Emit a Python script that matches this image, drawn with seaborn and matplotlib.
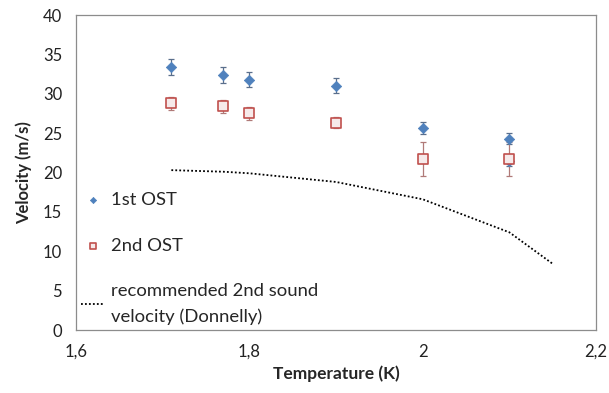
import pandas as pd
import matplotlib.pyplot as plt
import seaborn as sns

# measured points (temperature in K, velocity in m/s, error half-width)
temp_1st = [1.71, 1.77, 1.80, 1.90, 2.00, 2.10, 2.10]
vel_1st = [33.4, 32.4, 31.8, 31.0, 25.7, 24.3, 21.4]
err_1st = [1.0, 1.0, 1.0, 0.95, 0.75, 0.7, 0.6]

temp_2nd = [1.71, 1.77, 1.80, 1.90, 2.00, 2.10]
vel_2nd = [28.8, 28.4, 27.5, 26.3, 21.7, 21.7]
err_2nd = [0.8, 0.8, 0.8, 0.7, 2.2, 2.2]

# recommended second sound velocity (Donnelly)
temp_ref = [1.71, 1.77, 1.80, 1.90, 2.00, 2.10, 2.15]
vel_ref = [20.3, 20.1, 19.9, 18.8, 16.6, 12.4, 8.4]

x_ticks = [1.6, 1.8, 2.0, 2.2]
x_tick_labels = ["1,6", "1,8", "2", "2,2"]
y_ticks = [0, 5, 10, 15, 20, 25, 30, 35, 40]

BLUE = "#4F81BD"
RED = "#C0504D"
GRID = "#8c8c8c"


def build_frames():
    df1 = pd.DataFrame({"T": temp_1st, "v": vel_1st, "err": err_1st})
    df2 = pd.DataFrame({"T": temp_2nd, "v": vel_2nd, "err": err_2nd})
    dref = pd.DataFrame({"T": temp_ref, "v": vel_ref})
    return df1, df2, dref


def draw(df1, df2, dref):
    sns.set_style("white")
    plt.rcParams["font.family"] = ["Lato", "DejaVu Sans"]

    fig = plt.figure(figsize=(6.09, 3.93), dpi=100)
    ax = fig.add_axes([0.1248, 0.1603, 0.854, 0.8015])

    ax.errorbar(df1["T"], df1["v"], yerr=df1["err"], fmt="none",
                ecolor="#5a6f8c", elinewidth=0.9, capsize=2.5, capthick=0.9, zorder=2)
    ax.errorbar(df2["T"], df2["v"], yerr=df2["err"], fmt="none",
                ecolor="#b07a78", elinewidth=0.9, capsize=2.5, capthick=0.9, zorder=2)

    sns.lineplot(data=dref, x="T", y="v", ax=ax, color="black", linestyle=(0, (1, 1.2)),
                 linewidth=1.3, label="recommended 2nd sound\nvelocity (Donnelly)",
                 sort=False, zorder=3)
    sns.scatterplot(data=df1, x="T", y="v", ax=ax, marker="D", s=28, color=BLUE,
                    edgecolor=BLUE, linewidth=0.5, label="1st OST", zorder=4)
    sns.scatterplot(data=df2, x="T", y="v", ax=ax, marker="s", s=46, facecolor="#f6eaea",
                    edgecolor=RED, linewidth=1.2, label="2nd OST", zorder=4)

    ax.set_xlim(1.6, 2.2)
    ax.set_ylim(0, 40)
    ax.set_xticks(x_ticks)
    ax.set_xticklabels(x_tick_labels)
    ax.set_yticks(y_ticks)
    ax.tick_params(axis="both", labelsize=12, colors="#222222", length=4,
                   width=0.8, direction="out", pad=6)
    ax.tick_params(axis="both", color=GRID)
    for sp in ax.spines.values():
        sp.set_color(GRID)
        sp.set_linewidth(0.9)

    ax.set_xlabel("Temperature (K)", fontsize=12.5, fontweight="bold", labelpad=4)
    ax.set_ylabel("Velocity (m/s)", fontsize=12, fontweight="bold", labelpad=8)

    handles, labels = ax.get_legend_handles_labels()
    order = [labels.index("1st OST"), labels.index("2nd OST"),
             labels.index("recommended 2nd sound\nvelocity (Donnelly)")]
    leg = ax.legend([handles[i] for i in order], [labels[i] for i in order],
                    loc="upper left", bbox_to_anchor=(-0.022, 0.49), frameon=False,
                    fontsize=13.3, labelspacing=1.6, handlelength=1.25,
                    handletextpad=0.35, markerscale=0.6)
    for t in leg.get_texts():
        t.set_linespacing(1.7)

    fig.savefig("out.png", dpi=100)


def main():
    df1, df2, dref = build_frames()
    draw(df1, df2, dref)


if __name__ == "__main__":
    main()
